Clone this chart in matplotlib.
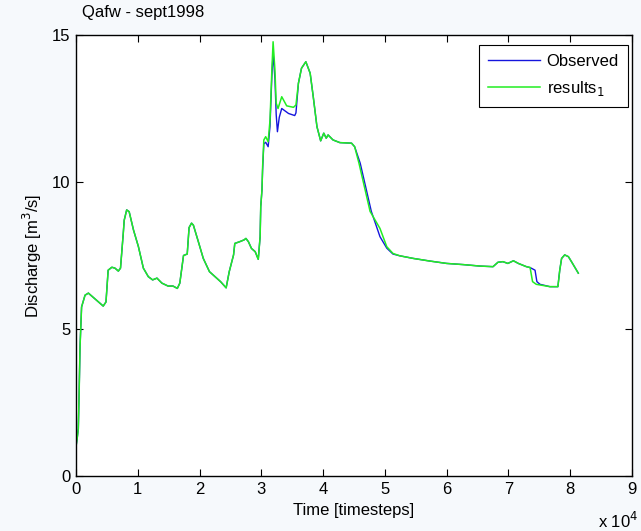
import matplotlib
matplotlib.use('Agg')
from matplotlib import pyplot as plt
from matplotlib.ticker import FuncFormatter, MultipleLocator

plt.rcParams['font.family'] = ['Liberation Sans', 'DejaVu Sans']

# modelled discharge (results_1), time in timesteps
t_res = [0, 200, 370, 500, 650, 900, 1460, 2000, 4400, 4850, 5200, 5800, 6300, 6850,
         7200, 7650, 7800, 8200, 8600, 9300, 10100, 10900, 11700, 12400, 13100, 13900,
         14900, 15700, 16400, 16800, 17400, 18000, 18300, 18700, 19000, 19800, 20600,
         21600, 22500, 23400, 24300, 24800, 25500, 25700, 26500, 27200, 27500, 27900,
         28400, 29000, 29500, 29800, 29900, 30100, 30200, 30400, 30700, 31100, 31400,
         31700, 31900, 32200, 32400, 32700, 33300, 34100, 35200, 35600, 36000, 36500,
         37200, 37900, 38400, 39000, 39600, 40100, 40500, 40800, 41600, 42700, 44600,
         45100, 45800, 46800, 47600, 49200, 50300, 51300, 52400, 54600, 57300, 60000,
         62700, 65400, 67500, 68300, 69100, 69900, 70800, 71600, 72900, 73500, 73900,
         74500, 76700, 78000, 78300, 78600, 79100, 79700, 80200, 81300]
q_res = [1.0, 1.3, 1.6, 2.8, 4.4, 5.75, 6.15, 6.22, 5.78, 5.92, 7.0, 7.1, 7.07, 6.97,
         7.07, 8.26, 8.7, 9.05, 8.99, 8.37, 7.8, 7.07, 6.78, 6.67, 6.73, 6.56,
         6.46, 6.46, 6.38, 6.56, 7.5, 7.55, 8.45, 8.6, 8.53, 7.97, 7.4,
         6.95, 6.78, 6.61, 6.4, 6.95, 7.52, 7.91, 7.97, 8.03, 8.08, 7.97,
         7.74, 7.63, 7.37, 8.14, 9.16, 9.73, 10.5, 11.43, 11.54, 11.37, 12.1,
         13.8, 14.77, 13.8, 12.68, 12.5, 12.9, 12.59, 12.54, 12.62, 13.36, 13.87,
         14.09, 13.7, 12.9, 11.88, 11.4, 11.66, 11.49, 11.6, 11.43, 11.34, 11.32,
         11.2, 10.64, 9.73, 9.0, 8.42, 7.8, 7.57, 7.49, 7.4, 7.31, 7.23,
         7.19, 7.14, 7.12, 7.27, 7.29, 7.23, 7.32, 7.23, 7.12, 7.09, 6.61,
         6.52, 6.44, 6.44, 7.0, 7.4, 7.52, 7.46, 7.29, 6.9]

# observed discharge
t_obs = [0, 200, 370, 500, 650, 900, 1460, 2000, 4400, 4850, 5200, 5800, 6300, 6850,
         7200, 7650, 7800, 8200, 8600, 9300, 10100, 10900, 11700, 12400, 13100, 13900,
         14900, 15700, 16400, 16800, 17400, 18000, 18300, 18700, 19000, 19800, 20600,
         21600, 22500, 23400, 24300, 24800, 25500, 25700, 26500, 27200, 27500, 27900,
         28400, 29000, 29500, 29800, 29900, 30100, 30200, 30400, 30700, 31100, 31400,
         31700, 31900, 32200, 32400, 32600, 32900, 33300, 34400, 35400, 35600, 36000,
         36500, 37200, 37900, 38400, 39000, 39600, 40100, 40500, 40800, 41600, 42700,
         44600, 45100, 46000, 47000, 47800, 49200, 50300, 51300, 52400, 54600, 57300,
         60000, 62700, 65400, 67500, 68300, 69100, 69900, 70800, 71600, 72900, 73500,
         74300, 74600, 75100, 76700, 78000, 78300, 78600, 79100, 79700, 80200, 81300]
q_obs = [1.0, 1.3, 1.6, 2.8, 4.4, 5.75, 6.15, 6.22, 5.78, 5.92, 7.0, 7.1, 7.07, 6.97,
         7.07, 8.26, 8.7, 9.05, 8.99, 8.37, 7.8, 7.07, 6.78, 6.67, 6.73, 6.56,
         6.46, 6.46, 6.38, 6.56, 7.5, 7.55, 8.45, 8.6, 8.53, 7.97, 7.4,
         6.95, 6.78, 6.61, 6.4, 6.95, 7.52, 7.91, 7.97, 8.03, 8.08, 7.97,
         7.74, 7.63, 7.37, 8.14, 9.16, 9.73, 10.4, 11.3, 11.35, 11.2, 11.9,
         13.6, 14.4, 13.5, 12.3, 11.71, 12.2, 12.5, 12.33, 12.26, 12.35, 13.36,
         13.87, 14.09, 13.7, 12.9, 11.88, 11.4, 11.66, 11.49, 11.6, 11.43, 11.34,
         11.32, 11.2, 10.64, 9.73, 9.0, 8.14, 7.75, 7.55, 7.49, 7.4, 7.31,
         7.23, 7.19, 7.14, 7.12, 7.27, 7.29, 7.23, 7.32, 7.23, 7.12, 7.09,
         7.0, 6.61, 6.52, 6.44, 6.44, 7.0, 7.4, 7.52, 7.46, 7.29, 6.9]

fig = plt.figure(figsize=(6.41, 5.31), dpi=100, facecolor='#f6f9fc')
ax = fig.add_axes([0.1186, 0.1036, 0.8674, 0.8305])
ax.set_facecolor('white')

ax.plot(t_obs, q_obs, color='#1515dd', lw=1.0, label='Observed')
ax.plot(t_res, q_res, color='#22ee22', lw=1.1, label='results$_1$')

ax.set_xlim(0, 90000)
ax.set_ylim(0, 15)
ax.xaxis.set_major_locator(MultipleLocator(10000))
ax.yaxis.set_major_locator(MultipleLocator(5))
ax.xaxis.set_major_formatter(FuncFormatter(lambda v, p: '%d' % round(v / 10000)))
ax.tick_params(direction='in', length=5, top=True, right=True, labelsize=12,
               width=0.8, pad=4)
for s in ax.spines.values():
    s.set_linewidth(1.0)

ax.set_xlabel('Time [timesteps]', fontsize=12, labelpad=5)
ax.set_ylabel('Discharge [m$^3$/s]', fontsize=12, labelpad=6)
fig.text(82 / 641, 1 - 13 / 531, 'Qafw - sept1998', fontsize=12, va='center', ha='left')
fig.text(598 / 641, 1 - 521 / 531, 'x 10$^4$', fontsize=12, va='center', ha='left')

leg = ax.legend(loc='upper right', bbox_to_anchor=(0.9928, 0.9773), fontsize=12,
                fancybox=False, framealpha=1, edgecolor='black', handlelength=3.1,
                handletextpad=0.4, borderaxespad=0, borderpad=0.55,
                labelspacing=0.6)
leg.get_frame().set_linewidth(0.8)

fig.savefig('out.png', dpi=100, facecolor=fig.get_facecolor())
